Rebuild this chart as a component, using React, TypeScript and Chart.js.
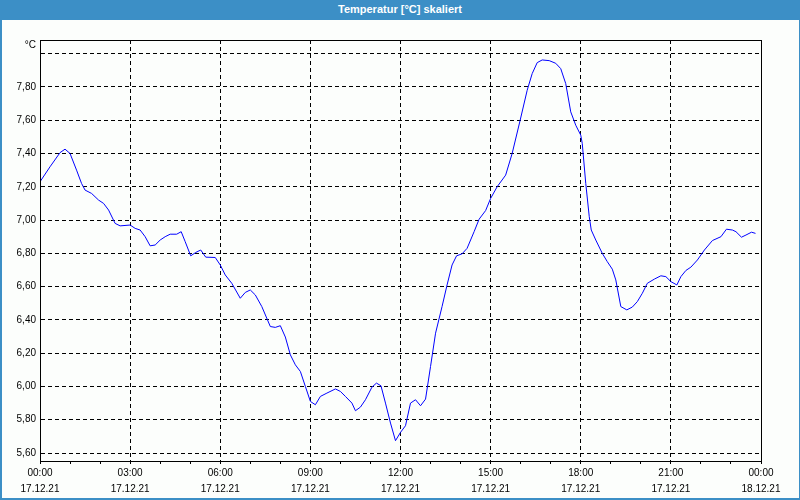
import React, { useEffect, useRef } from "react";
import { Chart, registerables } from "chart.js";

Chart.register(...registerables);

const TITLE = "Temperatur [°C] skaliert";
const UNIT = "°C";

// minutes since 17.12.21 00:00
const minutes = [
  0, 20, 40, 50, 60, 73, 83, 90, 103, 117, 127, 137, 150, 160, 180, 190, 200, 210, 220, 230,
  240, 250, 260, 273, 282, 290, 301, 311, 321, 331, 350, 360, 370, 383, 400, 410, 420, 430, 443, 460,
  470, 480, 490, 500, 510, 520, 530, 540, 550, 560, 573, 590, 600, 610, 623, 630, 640, 650, 663, 672,
  681, 690, 700, 710, 720, 730, 740, 750, 760, 770, 780, 790, 803, 813, 823, 832, 843, 853, 867, 877,
  890, 900, 913, 930, 943, 959, 973, 983, 993, 1003, 1017, 1030, 1040, 1050, 1060, 1070, 1080, 1083, 1090, 1097,
  1101, 1110, 1123, 1133, 1143, 1150, 1160, 1172, 1183, 1193, 1203, 1213, 1227, 1240, 1250, 1260, 1272, 1280, 1290, 1300,
  1313, 1327, 1343, 1360, 1371, 1383, 1390, 1401, 1410, 1421, 1429,
];

const temperature = [
  7.23, 7.32, 7.405, 7.426, 7.4, 7.3, 7.22, 7.18, 7.16, 7.12, 7.1, 7.06, 6.98, 6.965, 6.97, 6.95, 6.94, 6.9, 6.845, 6.85,
  6.88, 6.9, 6.915, 6.915, 6.93, 6.87, 6.785, 6.805, 6.82, 6.777, 6.775, 6.73, 6.67, 6.62, 6.53, 6.565, 6.58, 6.55, 6.48, 6.36,
  6.355, 6.365, 6.297, 6.19, 6.13, 6.09, 6.0, 5.91, 5.89, 5.94, 5.96, 5.985, 5.97, 5.94, 5.9, 5.854, 5.876, 5.92, 5.996, 6.02,
  6.004, 5.9, 5.78, 5.674, 5.724, 5.764, 5.9, 5.92, 5.884, 5.924, 6.12, 6.32, 6.48, 6.61, 6.73, 6.785, 6.797, 6.83, 6.93, 7.005,
  7.057, 7.13, 7.2, 7.27, 7.4, 7.6, 7.78, 7.88, 7.946, 7.962, 7.958, 7.942, 7.91, 7.82, 7.65, 7.57, 7.51, 7.46, 7.22, 7.02,
  6.94, 6.88, 6.8, 6.75, 6.705, 6.64, 6.48, 6.46, 6.477, 6.51, 6.56, 6.62, 6.645, 6.665, 6.66, 6.63, 6.61, 6.66, 6.697, 6.717,
  6.76, 6.82, 6.877, 6.9, 6.945, 6.94, 6.93, 6.897, 6.91, 6.927, 6.92,
];

const yTicks = [5.6, 5.8, 6.0, 6.2, 6.4, 6.6, 6.8, 7.0, 7.2, 7.4, 7.6, 7.8, 8.0];
const yMin = 5.552;
const yMax = 8.082;

const majorTickMinutes = [0, 180, 360, 540, 720, 900, 1080, 1260, 1440];
const timeLabels = ["00:00", "03:00", "06:00", "09:00", "12:00", "15:00", "18:00", "21:00", "00:00"];
const dateLabels = [
  "17.12.21", "17.12.21", "17.12.21", "17.12.21", "17.12.21",
  "17.12.21", "17.12.21", "17.12.21", "18.12.21",
];
const minorStep = 60;

const FONT = "'Liberation Sans', Arial, sans-serif";

export default function App() {
  const ref = useRef<HTMLCanvasElement | null>(null);

  useEffect(() => {
    document.body.style.margin = "0";
    const canvas = ref.current;
    if (!canvas) return;

    const hourTicks: number[] = [];
    for (let m = 0; m <= 1440; m += minorStep) hourTicks.push(m);

    const framePlugin = {
      id: "frame",
      afterDraw(chart: any) {
        const { ctx, chartArea } = chart;
        ctx.save();
        ctx.strokeStyle = "#000";
        ctx.lineWidth = 1;
        ctx.setLineDash([]);
        ctx.strokeRect(
          Math.round(chartArea.left) + 0.5,
          Math.round(chartArea.top) + 0.5,
          Math.round(chartArea.right - chartArea.left),
          Math.round(chartArea.bottom - chartArea.top)
        );
        ctx.fillStyle = "#000";
        ctx.font = `10px ${FONT}`;
        ctx.textAlign = "right";
        ctx.textBaseline = "middle";
        ctx.fillText(UNIT, chartArea.left - 4, chartArea.top + 5);
        ctx.restore();
      },
    };

    const chart = new Chart(canvas, {
      type: "line",
      data: {
        datasets: [
          {
            data: minutes.map((m, i) => ({ x: m, y: temperature[i] })),
            borderColor: "#0000ff",
            borderWidth: 1,
            pointRadius: 0,
            tension: 0,
            fill: false,
          },
        ],
      },
      options: {
        animation: false,
        responsive: false,
        layout: { padding: { top: 40, right: 39, left: 0, bottom: 0 } },
        plugins: { legend: { display: false }, tooltip: { enabled: false }, title: { display: false } },
        scales: {
          x: {
            type: "linear",
            min: 0,
            max: 1440,
            afterBuildTicks: (scale: any) => {
              scale.ticks = hourTicks.map((v) => ({ value: v }));
            },
            afterFit: (scale: any) => {
              scale.height = 39;
            },
            ticks: {
              autoSkip: false,
              maxRotation: 0,
              minRotation: 0,
              padding: 1,
              color: "#000",
              font: { family: FONT, size: 10, lineHeight: 1.6 },
              callback: (value: any) => {
                const idx = majorTickMinutes.indexOf(Number(value));
                return idx >= 0 ? [timeLabels[idx], dateLabels[idx]] : "";
              },
            },
            grid: {
              drawTicks: true,
              tickLength: 3,
              tickWidth: 1,
              tickColor: "#000",
              tickBorderDash: [],
              color: (ctx: any) =>
                ctx.tick && majorTickMinutes.indexOf(ctx.tick.value) >= 0 ? "#000" : "rgba(0,0,0,0)",
              lineWidth: 1,
            },
            border: { display: true, color: "#000", width: 1, dash: [4, 3] },
          },
          y: {
            type: "linear",
            min: yMin,
            max: yMax,
            afterBuildTicks: (scale: any) => {
              scale.ticks = yTicks.map((v) => ({ value: v }));
            },
            afterFit: (scale: any) => {
              scale.width = 40;
            },
            ticks: {
              autoSkip: false,
              padding: 4,
              color: "#000",
              font: { family: FONT, size: 10 },
              callback: (value: any) => {
                const v = Number(value);
                if (Math.abs(v - 8.0) < 1e-6) return "";
                return v.toFixed(2).replace(".", ",");
              },
            },
            grid: {
              drawTicks: false,
              color: "#000",
              lineWidth: 1,
            },
            border: { display: true, color: "#000", width: 1, dash: [4, 3] },
          },
        },
      },
      plugins: [framePlugin],
    });

    return () => chart.destroy();
  }, []);

  return (
    <div style={{ position: "fixed", left: 0, top: 0, width: 800, height: 500, background: "#3c8fc6" }}>
      <div
        style={{
          position: "absolute",
          left: 0,
          top: 0,
          width: 800,
          height: 20,
          lineHeight: "18px",
          textAlign: "center",
          color: "#fff",
          fontFamily: FONT,
          fontWeight: "bold",
          fontSize: 11,
        }}
      >
        {TITLE}
      </div>
      <div
        style={{
          position: "absolute",
          left: 2,
          top: 20,
          width: 797,
          height: 478,
          background: "#fcfefc",
        }}
      />
      <canvas
        ref={ref}
        width={800}
        height={500}
        style={{ position: "absolute", left: 0, top: 0, width: 800, height: 500 }}
      />
    </div>
  );
}
